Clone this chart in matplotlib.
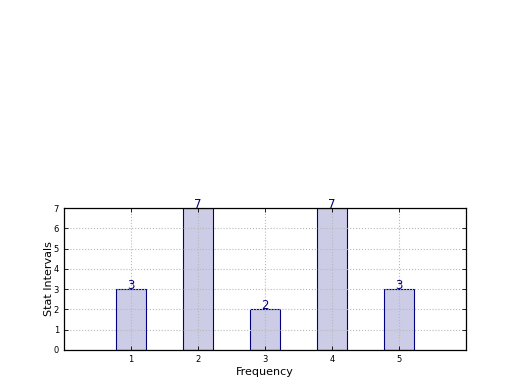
import matplotlib
matplotlib.use("Agg")
import matplotlib.pyplot as plt

# ── Data ────────────────────────────────────────────────────────────────
categories = [1, 2, 3, 4, 5]
counts = [3, 7, 2, 7, 3]
y_ticks = [0, 1, 2, 3, 4, 5, 6, 7]

fig = plt.figure(figsize=(5.2, 3.9), dpi=100, facecolor="white")
ax = fig.add_axes([0.123, 0.1026, 0.773, 0.364])

bars = ax.bar(categories, counts, width=0.45, align="center",
              color=(0.8, 0.8, 0.9), edgecolor="navy", linewidth=0.8)

for x, v in zip(categories, counts):
    ax.text(x, v, str(v), ha="center", va="baseline", fontsize=8.5,
            color="navy")

ax.set_xlim(0, 6)
ax.set_ylim(0, 7)
ax.set_xticks(categories)
ax.set_yticks(y_ticks)
ax.tick_params(direction="in", top=True, right=True, labelsize=6,
               length=3, width=0.6)
ax.set_axisbelow(False)
ax.grid(True, linestyle=":", color="#b8b8b8", linewidth=0.8)
for s in ax.spines.values():
    s.set_linewidth(0.9)
    s.set_zorder(5)

ax.set_xlabel("Frequency", fontsize=8, labelpad=2)
ax.set_ylabel("Stat Intervals", fontsize=8, labelpad=0)

fig.savefig("out.png", dpi=100, facecolor=fig.get_facecolor())
